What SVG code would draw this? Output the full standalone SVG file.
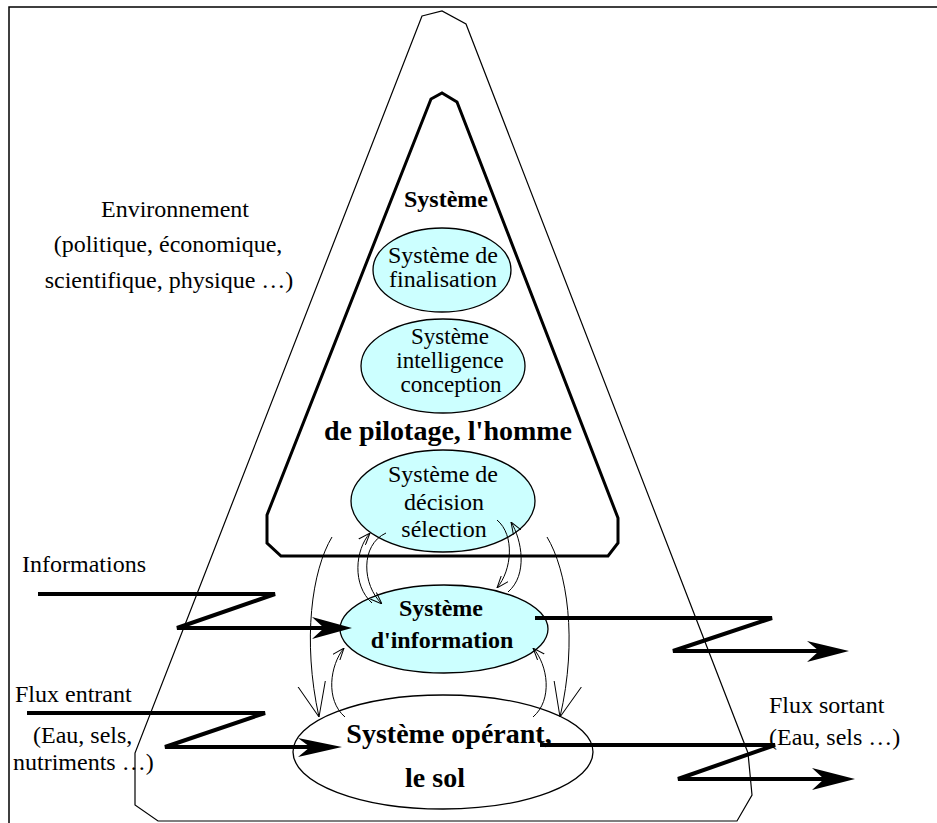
<svg xmlns="http://www.w3.org/2000/svg" width="937" height="823" viewBox="0 0 937 823">
<defs>
<style>
text{font-family:"Liberation Serif","Times New Roman",serif;fill:#000;}
.t{font-size:24px;}
.ts{font-size:23px;}
.b{font-size:24px;font-weight:bold;}
.bl{font-size:28px;font-weight:bold;}
.c{text-anchor:middle;}
.ell{fill:#ccffff;stroke:#000;stroke-width:1.3;}
.ellw{fill:#fff;stroke:#000;stroke-width:1.3;}
.thin{fill:none;stroke:#000;stroke-width:1;}
.flow{fill:none;stroke:#000;stroke-width:4;stroke-linejoin:miter;}
.head{fill:#000;stroke:none;}
</style>
<marker id="openL" viewBox="0 0 34 30" refX="34" refY="15" markerWidth="34" markerHeight="30" orient="auto" markerUnits="userSpaceOnUse">
<path d="M0,1 L34,15 L0,29" fill="none" stroke="#000" stroke-width="1"/>
</marker>
<marker id="openS" viewBox="0 0 12 10" refX="12" refY="5" markerWidth="12" markerHeight="10" orient="auto" markerUnits="userSpaceOnUse">
<path d="M0,0.5 L12,5 L0,9.5" fill="none" stroke="#000" stroke-width="1"/>
</marker>
</defs>

<g id="frame">
<path d="M9,823 V7 H937" fill="none" stroke="#000" stroke-width="1.5"/>
</g>

<g id="environnement">
<polygon points="422,16 442,11 466,24 748,753 752,795 737,821 158,821 135,805 135,753" fill="none" stroke="#000" stroke-width="1.2"/>
<text class="t c" x="175" y="217">Environnement</text>
<text class="t c" x="168" y="252">(politique, économique,</text>
<text class="t c" x="169" y="288">scientifique, physique …)</text>
</g>

<g id="systeme-pilotage">
<polygon points="431,99 442,93 457,102 618,518 618,543 608,556 281,556 267,543 267,515" fill="none" stroke="#000" stroke-width="3"/>
<text class="b c" x="446" y="207">Système</text>
<text class="bl c" x="448" y="440">de pilotage, l'homme</text>
</g>

<g id="finalisation">
<ellipse class="ell" cx="442" cy="270" rx="69" ry="42"/>
<text class="t c" x="443" y="263">Système de</text>
<text class="t c" x="443" y="287">finalisation</text>
</g>

<g id="intelligence">
<ellipse class="ell" cx="443" cy="366" rx="82" ry="47"/>
<text class="ts c" x="450" y="344">Système</text>
<text class="ts c" x="450" y="368">intelligence</text>
<text class="ts c" x="451" y="392">conception</text>
</g>

<g id="decision">
<ellipse class="ell" cx="443" cy="501" rx="92" ry="51"/>
<text class="t c" x="443" y="482">Système de</text>
<text class="t c" x="444" y="510">décision</text>
<text class="t c" x="444" y="537">sélection</text>
</g>

<g id="information">
<ellipse class="ell" cx="444" cy="629" rx="104" ry="44"/>
<text class="b c" x="441" y="616">Système</text>
<text class="b c" x="442" y="648">d'information</text>
</g>

<g id="operant">
<ellipse class="ellw" cx="443" cy="752" rx="150" ry="57"/>
<text class="bl c" x="449" y="743">Système opérant,</text>
<text class="bl c" x="435" y="787">le sol</text>
</g>

<g id="labels">
<text class="t" x="22" y="572">Informations</text>
<text class="t" x="15" y="702">Flux entrant</text>
<text class="t" x="33" y="743">(Eau, sels,</text>
<text class="t" x="13" y="770">nutriments …)</text>
<text class="t" x="769" y="713">Flux sortant</text>
<text class="t" x="769" y="745">(Eau, sels …)</text>
</g>

<g id="connectors">
<path class="flow" d="M38,594 H275 L177,628 H336"/>
<polygon class="head" points="352,628 312,617 324,628 312,639"/>
<path class="flow" d="M27,713 H265 L165,747 H326"/>
<polygon class="head" points="342,747 298,738 310,747 298,757"/>
<path class="flow" d="M535,618 H772 L673,651 H835"/>
<polygon class="head" points="849,651 807,641 819,651 807,662"/>
<path class="flow" d="M540,745 H775 L678,779 H840"/>
<polygon class="head" points="855,779 812,768 824,779 812,790"/>

<path class="thin" d="M332,537 C312,570 302,640 319,717" marker-end="url(#openL)"/>
<path class="thin" d="M547,537 C567,570 578,640 560,717" marker-end="url(#openL)"/>
<path class="thin" d="M372,603 C352,585 355,550 370,533" marker-end="url(#openS)"/>
<path class="thin" d="M386,533 C360,545 362,585 382,604" marker-end="url(#openS)"/>
<path class="thin" d="M497,520 C515,535 512,570 497,588" marker-end="url(#openS)"/>
<path class="thin" d="M508,592 C528,575 522,540 511,522" marker-end="url(#openS)"/>
<path class="thin" d="M345,717 C325,700 330,665 344,648" marker-end="url(#openS)"/>
<path class="thin" d="M533,717 C553,700 548,665 533,648" marker-end="url(#openS)"/>
</g>
</svg>
